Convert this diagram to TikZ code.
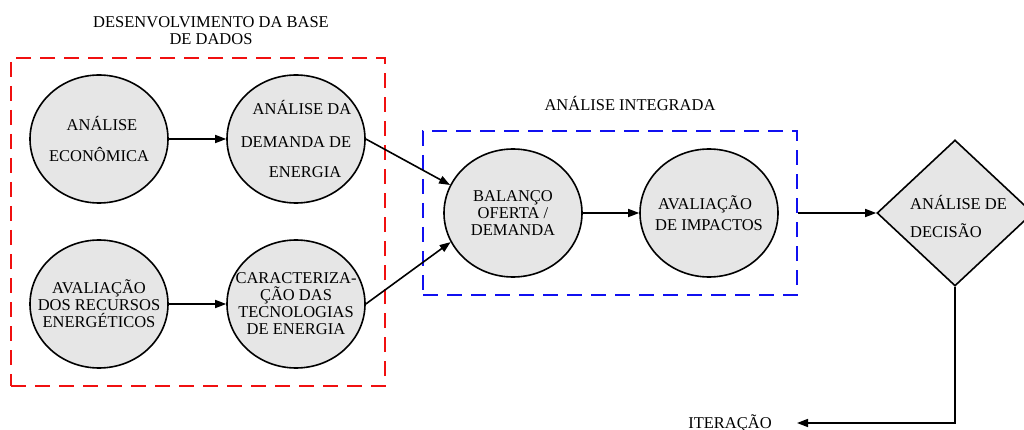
\documentclass[tikz,border=0pt]{standalone}
\usepackage{fontspec}
\setmainfont{Liberation Serif}
\usetikzlibrary{arrows.meta,shapes.geometric}
\definecolor{boxred}{HTML}{F01010}
\definecolor{boxblue}{HTML}{1010F0}
\definecolor{cellgray}{HTML}{E6E6E6}
\begin{document}
\begin{tikzpicture}[x=1pt,y=-1pt,
  txt/.style={font=\fontsize{16.5}{17}\selectfont, align=center, inner sep=0pt},
  bubble/.style={ellipse, draw=black, line width=1.6pt, fill=cellgray, minimum width=138pt, minimum height=128pt, inner sep=0pt},
  frame/.style={draw, line width=2pt, dash pattern=on 15pt off 9pt, minimum width=374pt, inner sep=0pt},
  flow/.style={line width=1.6pt, -{Triangle[length=11pt,width=8pt]}}]
\useasboundingbox (0,0) rectangle (1024,430);
% frames
\node (red) [frame, draw=boxred, minimum height=328pt] at (198,222) {};
\node (blue) [frame, draw=boxblue, minimum height=164pt] at (610,213) {};
% titles
\node (t1) [txt] at (211,31) {DESENVOLVIMENTO DA BASE\\DE DADOS};
\node (t2) [txt] at (630,104) {ANÁLISE INTEGRADA};
% bubbles
\node (eco) [bubble, label={[txt]center:\hspace*{6pt}ANÁLISE\\[14pt]ECONÔMICA}] at (99,139) {};
\node (dem) [bubble, label={[txt]center:\hspace*{12pt}ANÁLISE DA\\[16pt]DEMANDA DE\hspace*{12pt}\\[13pt]\hspace*{18pt}ENERGIA}] at (296,139) {};
\node (rec) [bubble, label={[txt]center:AVALIAÇÃO\\DOS RECURSOS\\ENERGÉTICOS}] at (99,304) {};
\node (tec) [bubble, label={[txt]center:CARACTERIZA-\\ÇÃO DAS\\TECNOLOGIAS\\DE ENERGIA}] at (296,304) {};
\node (bal) [bubble, label={[txt]center:BALANÇO\\OFERTA /\\DEMANDA}] at (513,213) {};
\node (imp) [bubble, label={[txt]center:AVALIAÇÃO\hspace*{8pt}\\[4pt]DE IMPACTOS}] at (709,213) {};
% decision
\node (dec) [diamond, draw=black, line width=1.6pt, fill=cellgray, minimum width=156pt, minimum height=146pt, inner sep=0pt] at (955,213) {};
\node (dect) [font=\fontsize{16.5}{17}\selectfont, align=left, inner sep=0pt, anchor=west] at (910,216) {ANÁLISE DE\\[11pt]DECISÃO};
% iteration
\node (it) [txt] at (730,423) {ITERAÇÃO};
\coordinate (itend) at (797,423);
% connectors
\draw[flow] (eco.east) -- (dem.west);
\draw[flow] (rec.east) -- (tec.west);
\draw[flow] (dem.east) -- (bal.156);
\draw[flow] (tec.east) -- (bal.205);
\draw[flow] (bal.east) -- (imp.west);
\draw[flow] (blue.east) -- (dec.west);
\draw[flow] (dec.south) |- (itend);
\end{tikzpicture}
\end{document}
